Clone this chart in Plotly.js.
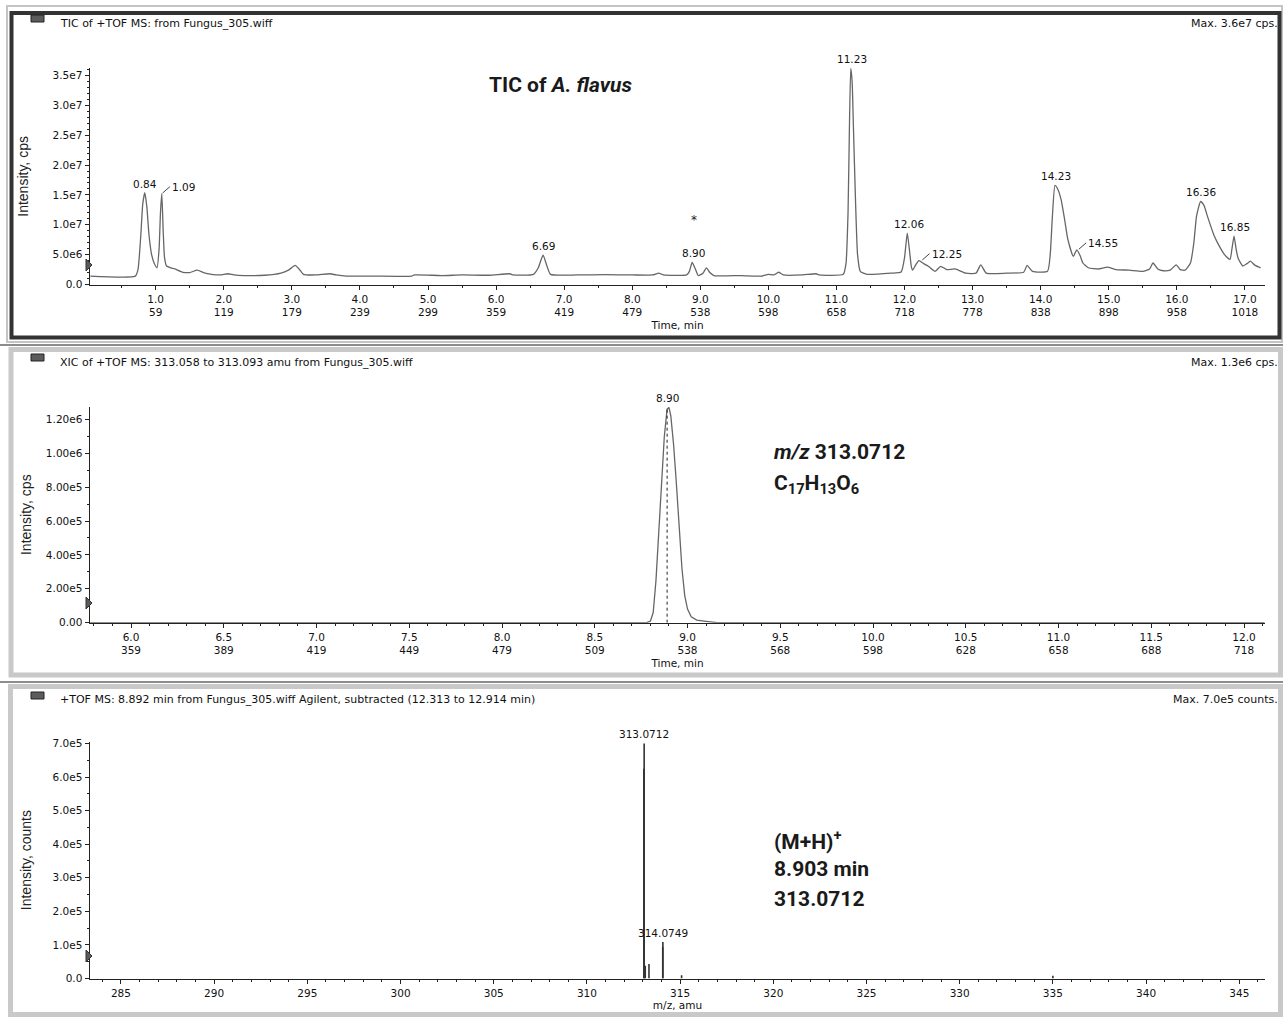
<!DOCTYPE html>
<html>
<head>
<meta charset="utf-8">
<script src="https://cdn.plot.ly/plotly-3.0.1.min.js"></script>
<style>
html,body{margin:0;padding:0;background:#fff;}
#chart{width:1283px;height:1017px;}
</style>
</head>
<body>
<div id="chart"></div>
<script>
// ---------- DATA ----------
// Panel 1: TIC of +TOF MS (time in min, intensity in cps)
const ticTime = [0.04,0.70,0.74,0.78,0.81,0.84,0.87,0.90,0.94,0.98,1.02,1.05,1.07,1.09,1.11,1.13,1.16,1.22,1.28,1.40,1.50,1.61,1.70,1.82,1.95,2.06,2.15,2.30,2.60,2.84,2.95,3.05,3.12,3.17,3.35,3.56,3.65,3.80,4.20,4.76,4.80,5.20,5.50,5.90,6.20,6.25,6.55,6.62,6.69,6.75,6.80,7.20,7.60,8.00,8.30,8.39,8.46,8.80,8.84,8.88,8.92,8.97,9.04,9.09,9.14,9.20,9.60,9.90,10.00,10.08,10.15,10.22,10.50,10.70,10.75,11.10,11.14,11.17,11.19,11.21,11.23,11.25,11.28,11.31,11.35,11.45,11.80,11.95,12.00,12.04,12.07,12.10,12.12,12.16,12.21,12.28,12.35,12.45,12.53,12.62,12.74,12.90,13.05,13.12,13.20,13.50,13.75,13.80,13.88,14.10,14.14,14.17,14.21,14.25,14.30,14.35,14.40,14.48,14.53,14.58,14.62,14.70,14.85,14.98,15.10,15.30,15.50,15.60,15.65,15.72,15.80,15.90,15.99,16.05,16.12,16.20,16.25,16.29,16.35,16.40,16.45,16.55,16.62,16.70,16.78,16.81,16.84,16.87,16.90,16.97,17.03,17.08,17.15,17.23];
const ticIntensity = [1.4e6,1.4e6,2.5e6,8.0e6,13.5e6,15.4e6,13.0e6,8.5e6,5.0e6,3.5e6,2.8e6,6.0e6,12.0e6,15.2e6,9.0e6,4.5e6,3.1e6,2.8e6,2.6e6,2.05e6,2.0e6,2.4e6,2.0e6,1.7e6,1.6e6,1.8e6,1.6e6,1.5e6,1.55e6,1.9e6,2.4e6,3.2e6,2.4e6,1.7e6,1.6e6,1.8e6,1.6e6,1.4e6,1.4e6,1.4e6,1.6e6,1.5e6,1.6e6,1.55e6,1.8e6,1.6e6,1.7e6,2.8e6,4.9e6,3.0e6,1.7e6,1.6e6,1.65e6,1.6e6,1.6e6,1.9e6,1.6e6,1.6e6,2.2e6,3.7e6,2.8e6,1.5e6,1.9e6,2.8e6,2.0e6,1.5e6,1.5e6,1.4e6,1.7e6,1.6e6,2.05e6,1.6e6,1.6e6,1.8e6,1.6e6,1.7e6,3.5e6,12.0e6,26.0e6,36.2e6,34.0e6,26.0e6,14.0e6,5.0e6,2.2e6,1.7e6,1.9e6,2.1e6,4.5e6,8.6e6,6.0e6,3.0e6,2.4e6,3.2e6,4.0e6,3.5e6,3.05e6,2.2e6,3.05e6,2.5e6,2.6e6,1.9e6,1.9e6,3.3e6,1.9e6,1.9e6,2.05e6,3.2e6,2.2e6,2.2e6,5.0e6,11.0e6,16.6e6,16.0e6,14.2e6,11.0e6,7.5e6,4.7e6,5.8e6,4.8e6,3.6e6,2.8e6,2.6e6,2.9e6,2.5e6,2.4e6,2.2e6,2.6e6,3.6e6,2.6e6,2.3e6,2.4e6,3.3e6,2.5e6,2.4e6,3.6e6,7.0e6,11.5e6,13.9e6,13.2e6,11.4e6,8.1e6,6.5e6,5.0e6,4.2e6,6.0e6,8.1e6,6.0e6,4.4e6,3.1e6,3.5e6,3.9e6,3.2e6,2.8e6];
const ticPeakTime = [0.84,1.09,6.69,8.90,11.23,12.06,12.25,14.23,14.55,16.36,16.85];
const ticPeakHeight = [15.4e6,15.2e6,4.9e6,3.7e6,36.2e6,8.6e6,4.0e6,16.6e6,5.8e6,13.9e6,8.1e6];
const ticPeakLabel = ["0.84","1.09","6.69","8.90","11.23","12.06","12.25","14.23","14.55","16.36","16.85"];
const ticPeakLeader = [false,true,false,false,false,false,true,false,true,false,false];
const ticStarTime = 8.90, ticStarLevel = 1.08e7;
const ticXTicks = [1,2,3,4,5,6,7,8,9,10,11,12,13,14,15,16,17];
const ticXTickText = ["1.0<br>59","2.0<br>119","3.0<br>179","4.0<br>239","5.0<br>299","6.0<br>359","7.0<br>419","8.0<br>479","9.0<br>538","10.0<br>598","11.0<br>658","12.0<br>718","13.0<br>778","14.0<br>838","15.0<br>898","16.0<br>958","17.0<br>1018"];
const ticYTicks = [0,5e6,1e7,1.5e7,2e7,2.5e7,3e7,3.5e7];
const ticYTickText = ["0.0","5.0e6","1.0e7","1.5e7","2.0e7","2.5e7","3.0e7","3.5e7"];

// Panel 2: XIC of m/z 313.058-313.093
const xicTime = [5.78,8.78,8.80,8.815,8.83,8.845,8.86,8.875,8.89,8.90,8.91,8.925,8.94,8.955,8.97,8.985,9.00,9.02,9.05,9.10,9.14,9.16,12.11];
const xicIntensity = [0,0,0.01e6,0.06e6,0.25e6,0.52e6,0.83e6,1.10e6,1.26e6,1.27e6,1.22e6,1.05e6,0.82e6,0.55e6,0.32e6,0.16e6,0.08e6,0.035e6,0.015e6,0.008e6,0.003e6,0,0];
const xicApexTime = 8.89, xicApexHeight = 1.27e6, xicApexLabel = "8.90";
const xicXTicks = [6.0,6.5,7.0,7.5,8.0,8.5,9.0,9.5,10.0,10.5,11.0,11.5,12.0];
const xicXTickText = ["6.0<br>359","6.5<br>389","7.0<br>419","7.5<br>449","8.0<br>479","8.5<br>509","9.0<br>538","9.5<br>568","10.0<br>598","10.5<br>628","11.0<br>658","11.5<br>688","12.0<br>718"];
const xicYTicks = [0,2e5,4e5,6e5,8e5,1e6,1.2e6];
const xicYTickText = ["0.00","2.00e5","4.00e5","6.00e5","8.00e5","1.00e6","1.20e6"];

// Panel 3: mass spectrum at 8.892 min
const msMz = [313.055,313.0712,313.13,313.33,314.068,314.0749,315.08,335.0];
const msIntensity = [6.25e5,7.0e5,0.38e5,0.43e5,0.94e5,1.09e5,0.1e5,0.08e5];
const msLabelMz = [313.0712,314.0749];
const msLabelInt = [7.0e5,1.09e5];
const msLabelText = ["313.0712","314.0749"];
const msXTicks = [285,290,295,300,305,310,315,320,325,330,335,340,345];
const msYTicks = [0,1e5,2e5,3e5,4e5,5e5,6e5,7e5];
const msYTickText = ["0.0","1.0e5","2.0e5","3.0e5","4.0e5","5.0e5","6.0e5","7.0e5"];

// ---------- LAYOUT HELPERS ----------
const W = 1283, H = 1017;
const px = x => x / W;
const py = y => 1 - y / H;
const SMALL = {family: "DejaVu Sans, Verdana, sans-serif", size: 10.5, color: "#111"};
const HEAD = {family: "DejaVu Sans, Verdana, sans-serif", size: 11, color: "#111"};
const BIG = {family: "Roboto, Liberation Sans, Arial, sans-serif", size: 21, color: "#1a1a1a"};

function xAxis(range, dom, tickvals, ticktext, minorDtick, title, standoff, anchor) {
  return {
    domain: dom, range: range, anchor: anchor,
    showline: true, linecolor: "#222", linewidth: 1.5,
    showgrid: false, zeroline: false,
    tickmode: "array", tickvals: tickvals, ticktext: ticktext,
    ticks: "outside", ticklen: 4, tickcolor: "#222", tickwidth: 1,
    tickfont: SMALL,
    minor: {ticks: "outside", ticklen: 2, dtick: minorDtick, tick0: 0, tickcolor: "#222"},
    title: {text: title, font: {family: SMALL.family, size: 10.5, color: "#111"}, standoff: standoff},
    automargin: false, fixedrange: true
  };
}
function yAxis(range, dom, tickvals, ticktext, minorDtick, title, standoff, anchor) {
  return {
    domain: dom, range: range, anchor: anchor,
    showline: true, linecolor: "#222", linewidth: 1.5,
    showgrid: false, zeroline: false,
    tickmode: "array", tickvals: tickvals, ticktext: ticktext,
    ticks: "outside", ticklen: 4, tickcolor: "#222", tickwidth: 1,
    tickfont: SMALL,
    minor: {ticks: "outside", ticklen: 2, dtick: minorDtick, tick0: 0, tickcolor: "#222"},
    title: {text: title, font: {family: "Liberation Sans, Arial, sans-serif", size: 14, color: "#222"}, standoff: standoff},
    automargin: false, fixedrange: true
  };
}

// ---------- TRACES ----------
const traces = [];
traces.push({x: ticTime, y: ticIntensity, xaxis: "x", yaxis: "y", type: "scatter", mode: "lines",
  line: {color: "#666", width: 1.3, shape: "spline", smoothing: 0.5}, hoverinfo: "skip"});
traces.push({x: xicTime, y: xicIntensity, xaxis: "x2", yaxis: "y2", type: "scatter", mode: "lines",
  line: {color: "#666", width: 1.3}, hoverinfo: "skip"});
traces.push({x: [xicApexTime, xicApexTime], y: [0, xicApexHeight], xaxis: "x2", yaxis: "y2", type: "scatter", mode: "lines",
  line: {color: "#222", width: 1, dash: "dot"}, hoverinfo: "skip"});
const stickX = [], stickY = [];
msMz.forEach((m, i) => { stickX.push(m, m, null); stickY.push(0, msIntensity[i], null); });
traces.push({x: stickX, y: stickY, xaxis: "x3", yaxis: "y3", type: "scatter", mode: "lines",
  line: {color: "#333", width: 1.6}, hoverinfo: "skip"});

// ---------- ANNOTATIONS ----------
const ann = [];
ticPeakTime.forEach((t, i) => {
  if (ticPeakLeader[i]) {
    ann.push({x: t, y: ticPeakHeight[i], xref: "x", yref: "y", text: ticPeakLabel[i], font: SMALL,
      showarrow: true, arrowhead: 0, arrowwidth: 1, arrowcolor: "#444", ax: 8, ay: -7,
      xanchor: "left", yanchor: "middle", standoff: 1});
  } else {
    ann.push({x: t, y: ticPeakHeight[i], xref: "x", yref: "y", text: ticPeakLabel[i], font: SMALL,
      showarrow: false, yanchor: "bottom", yshift: 1});
  }
});
ann.push({x: ticStarTime, y: ticStarLevel, xref: "x", yref: "y", text: "*", font: {family: SMALL.family, size: 12, color: "#222"}, showarrow: false});
ann.push({x: xicApexTime, y: xicApexHeight, xref: "x2", yref: "y2", text: xicApexLabel, font: SMALL, showarrow: false, yanchor: "bottom", yshift: 1});
msLabelMz.forEach((m, i) => {
  ann.push({x: m, y: msLabelInt[i], xref: "x3", yref: "y3", text: msLabelText[i], font: SMALL, showarrow: false, yanchor: "bottom", yshift: 1});
});
// panel headers
const headers = [
  ["TIC of +TOF MS: from Fungus_305.wiff", "Max. 3.6e7 cps.", 23],
  ["XIC of +TOF MS: 313.058 to 313.093 amu from Fungus_305.wiff", "Max. 1.3e6 cps.", 362],
  ["+TOF MS: 8.892 min from Fungus_305.wiff Agilent, subtracted (12.313 to 12.914 min)", "Max. 7.0e5 counts.", 699]
];
headers.forEach(h => {
  ann.push({x: px(58), y: py(h[2]), xref: "paper", yref: "paper", text: h[0], font: HEAD, showarrow: false, xanchor: "left", yanchor: "middle"});
  ann.push({x: px(1280), y: py(h[2]), xref: "paper", yref: "paper", text: h[1], font: HEAD, showarrow: false, xanchor: "right", yanchor: "middle"});
});
// bold callouts
ann.push({x: px(487), y: py(85), xref: "paper", yref: "paper", text: "<b>TIC of <i>A. flavus</i></b>", font: BIG, showarrow: false, xanchor: "left", yanchor: "middle"});
ann.push({x: px(772), y: py(452), xref: "paper", yref: "paper", text: "<b><i>m/z</i> 313.0712</b>", font: BIG, showarrow: false, xanchor: "left", yanchor: "middle"});
ann.push({x: px(772), y: py(484), xref: "paper", yref: "paper", text: "<b>C<sub>17</sub>H<sub>13</sub>O<sub>6</sub></b>", font: BIG, showarrow: false, xanchor: "left", yanchor: "middle"});
ann.push({x: px(772), y: py(840), xref: "paper", yref: "paper", text: "<b>(M+H)<sup>+</sup></b>", font: BIG, showarrow: false, xanchor: "left", yanchor: "middle"});
ann.push({x: px(772), y: py(869), xref: "paper", yref: "paper", text: "<b>8.903 min</b>", font: BIG, showarrow: false, xanchor: "left", yanchor: "middle"});
ann.push({x: px(772), y: py(899), xref: "paper", yref: "paper", text: "<b>313.0712</b>", font: BIG, showarrow: false, xanchor: "left", yanchor: "middle"});

// ---------- SHAPES (frames, icons, threshold markers) ----------
const shapes = [];
function rectPx(x0, y0, x1, y1, color, width, fill) {
  shapes.push({type: "rect", xref: "paper", yref: "paper", x0: px(x0), x1: px(x1), y0: py(y0), y1: py(y1),
    line: {color: color, width: width}, fillcolor: fill || "rgba(0,0,0,0)", layer: "below"});
}
function linePx(x0, y0, x1, y1, color, width) {
  shapes.push({type: "line", xref: "paper", yref: "paper", x0: px(x0), x1: px(x1), y0: py(y0), y1: py(y1),
    line: {color: color, width: width}, layer: "below"});
}
rectPx(7, 6, 1282, 342, "#c4c4c4", 2);
rectPx(11.5, 13, 1279.5, 337.5, "#333333", 4);
linePx(0, 345, W, 345, "#8c8c8c", 2);
linePx(0, 682, W, 682, "#8c8c8c", 2);
rectPx(11, 349.5, 1280.5, 675, "#c9c9c9", 5);
rectPx(10.5, 686.5, 1280.5, 1014.5, "#c9c9c9", 5);
[[15, 22], [354, 361], [692, 699]].forEach(r => {
  shapes.push({type: "rect", xref: "paper", yref: "paper", x0: px(31), x1: px(44), y0: py(r[0]), y1: py(r[1]),
    line: {color: "#222", width: 1}, fillcolor: "#5c5c5c", layer: "above"});
});
[265, 603, 956].forEach(yc => {
  const p = `M ${px(86)},${py(yc - 6)} L ${px(92)},${py(yc)} L ${px(86)},${py(yc + 6)} Z`;
  shapes.push({type: "path", xref: "paper", yref: "paper", path: p, fillcolor: "#5a5a5a", line: {color: "#333", width: 1}, layer: "above"});
});

// ---------- LAYOUT ----------
const layout = {
  width: W, height: H,
  margin: {l: 0, r: 0, t: 0, b: 0},
  paper_bgcolor: "#ffffff", plot_bgcolor: "rgba(0,0,0,0)",
  showlegend: false,
  font: SMALL,
  xaxis: xAxis([0.035, 17.295], [px(90), px(1265)], ticXTicks, ticXTickText, 0.5, "Time, min", 4, "y"),
  yaxis: yAxis([0, 3.62e7], [py(284.5), py(68.3)], ticYTicks, ticYTickText, 1e6, "Intensity, cps", 20, "x"),
  xaxis2: xAxis([5.779, 12.113], [px(90), px(1265)], xicXTicks, xicXTickText, 0.1, "Time, min", 4, "y2"),
  yaxis2: yAxis([0, 1.2745e6], [py(622.7), py(406.7)], xicYTicks, xicYTickText, 1e5, "Intensity, cps", 11, "x2"),
  xaxis3: xAxis([283.34, 346.38], [px(90), px(1265)], msXTicks, msXTicks.map(String), 1, "m/z, amu", 4, "y3"),
  yaxis3: yAxis([0, 7.05e5], [py(978.5), py(741.8)], msYTicks, msYTickText, 5e4, "Intensity, counts", 17, "x3"),
  annotations: ann,
  shapes: shapes
};

Plotly.newPlot("chart", traces, layout, {displayModeBar: false, staticPlot: true});
</script>
</body>
</html>
